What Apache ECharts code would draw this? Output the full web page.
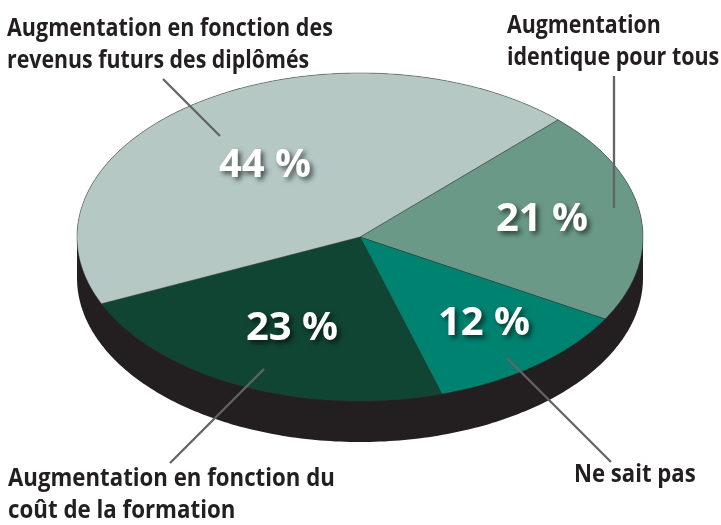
<!DOCTYPE html>
<html><head><meta charset="utf-8">
<style>html,body{margin:0;padding:0;background:#fff}#c{width:721px;height:525px}</style>
<script src="https://cdn.jsdelivr.net/npm/echarts@6/dist/echarts.min.js"></script>
</head><body><div id="c"></div>
<script>
const categories = ["Augmentation identique pour tous","Ne sait pas","Augmentation en fonction du coût de la formation","Augmentation en fonction des revenus futurs des diplômés"];
const shares = [21,12,23,44];
const sliceColors = ["#6a9a87","#008270","#114533","#b5c8c3"];

const cx=360, cy=237, rx=283, ry=164, depth=41;
const total = shares.reduce((a,b)=>a+b,0);
const startAt = -45.6;
const cum = shares.reduce((acc,v)=>{acc.push(acc[acc.length-1]+v);return acc;},[0]);
function pt(deg,dy){const t=deg*Math.PI/180;return [cx+rx*Math.cos(t),cy+ry*Math.sin(t)+(dy||0)];}

const ink="#231f20", lead="#636466";
const labelFont='bold 25px "Open Sans"', valueFont='bold 40px "Open Sans"';
function cap(text,x,y,sx){return {type:'text',x:x,y:y,scaleX:sx,silent:true,style:{text:text,fill:ink,font:labelFont,textAlign:'left',textVerticalAlign:'middle'}};}
function val(i,x,y){return {type:'text',x:x,y:y,z:10,silent:true,style:{text:shares[i]+' %',fill:'#fff',font:valueFont,textAlign:'center',textVerticalAlign:'middle',textShadowColor:'rgba(0,0,0,0.6)',textShadowBlur:5,textShadowOffsetX:3,textShadowOffsetY:3}};}
function line(a,b,c,d){return {type:'line',z:9,silent:true,shape:{x1:a,y1:b,x2:c,y2:d},style:{stroke:lead,lineWidth:2.3}};}

const chart=echarts.init(document.getElementById('c'),null,{renderer:'canvas'});
chart.setOption({
 animation:false,
 backgroundColor:'#fff',
 series:[
 {type:'custom',coordinateSystem:'none',silent:true,z:1,data:[total],
  renderItem(){
    const pts=[];
    for(let a=0;a<=180;a+=1)pts.push(pt(a,depth));
    for(let a=180;a<=360;a+=1)pts.push(pt(a,0));
    return {type:'polygon',shape:{points:pts},style:{fill:'#231f20'}};
  }},
 {type:'custom',coordinateSystem:'none',silent:true,z:2,
  data:shares.map((v,i)=>({name:categories[i],value:[v,i]})),
  renderItem(params,api){
    const v=api.value(0), i=api.value(1);
    const a0=startAt+cum[i]/total*360, a1=a0+v/total*360;
    const pts=[[cx,cy]];
    for(let a=a0;a<a1;a+=0.5)pts.push(pt(a,0));
    pts.push(pt(a1,0));
    return {type:'polygon',shape:{points:pts},style:{fill:sliceColors[i],stroke:'rgba(50,55,55,0.55)',lineWidth:0.8}};
  }}
 ],
 graphic:{elements:[
  line(163,79,220,136), line(614,76,614,208), line(170,463,264,369), line(611,462,507,358),
  cap("Augmentation en fonction des",7,29,0.861), cap("revenus futurs des diplômés",7,61,0.853),
  cap("Augmentation",507,26,0.855), cap("identique pour tous",507,58,0.858),
  cap("Augmentation en fonction du",8,479,0.889), cap("coût de la formation",8,511,0.892),
  cap("Ne sait pas",574,475,0.885),
  val(3,265,166), val(0,542,220), val(2,292,329), val(1,484,324)
 ]}
});
</script></body></html>
